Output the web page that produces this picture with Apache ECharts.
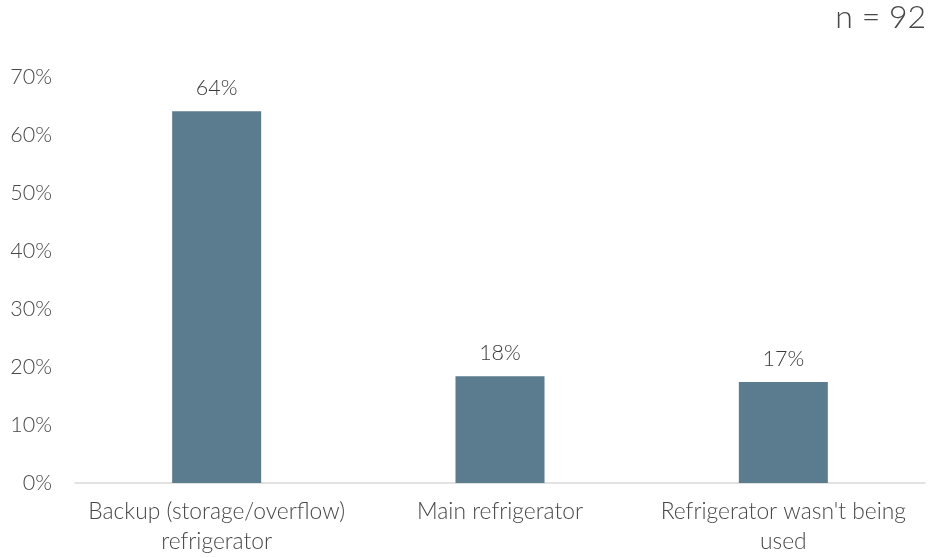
<!DOCTYPE html>
<html>
<head>
<meta charset="utf-8">
<script src="https://cdn.jsdelivr.net/npm/echarts@6/dist/echarts.min.js"></script>
<style>
  html, body { margin: 0; padding: 0; background: #fff; }
  #chart { width: 930px; height: 558px; }
</style>
</head>
<body>
<div id="chart"></div>
<script>
// Refrigerator role, share of respondents
const categories = [
  'Backup (storage/overflow)\nrefrigerator',
  'Main refrigerator',
  "Refrigerator wasn't being\nused"
];
const shares = [64.1, 18.4, 17.4];
const yTicks = [0, 10, 20, 30, 40, 50, 60, 70];
const sampleNote = 'n = 92';

const FONT = 'Lato, "Open Sans", sans-serif';
const TEXT = '#474747';
const chart = echarts.init(document.getElementById('chart'));
chart.setOption({
  animation: false,
  textStyle: { fontFamily: FONT },
  title: {
    text: sampleNote,
    right: 4,
    top: 2,
    padding: 0,
    textStyle: { fontSize: 32, fontWeight: 300, color: TEXT, fontFamily: FONT }
  },
  grid: { left: 75, right: 5, top: 77, bottom: 75, containLabel: false },
  xAxis: {
    type: 'category',
    data: categories,
    axisLine: { show: true, lineStyle: { color: '#d9d9d9', width: 1.5 } },
    axisTick: { show: false },
    axisLabel: {
      color: TEXT, fontSize: 22.8, fontWeight: 300, fontFamily: FONT,
      margin: 14, lineHeight: 30, interval: 0
    }
  },
  yAxis: {
    type: 'value',
    min: yTicks[0],
    max: yTicks[yTicks.length - 1],
    interval: 10,
    splitLine: { show: false },
    axisLine: { show: false },
    axisTick: { show: false },
    axisLabel: {
      color: TEXT, fontSize: 21.5, fontWeight: 300, fontFamily: FONT, margin: 23,
      formatter: v => v + '%'
    }
  },
  series: [{
    type: 'bar',
    data: shares,
    barWidth: 89,
    itemStyle: { color: '#5b7b8e' },
    label: {
      show: true,
      position: 'top',
      distance: 12,
      color: '#3a3a3a',
      fontSize: 21.5,
      fontWeight: 300,
      fontFamily: FONT,
      formatter: p => Math.round(p.value) + '%'
    }
  }]
});
</script>
</body>
</html>
